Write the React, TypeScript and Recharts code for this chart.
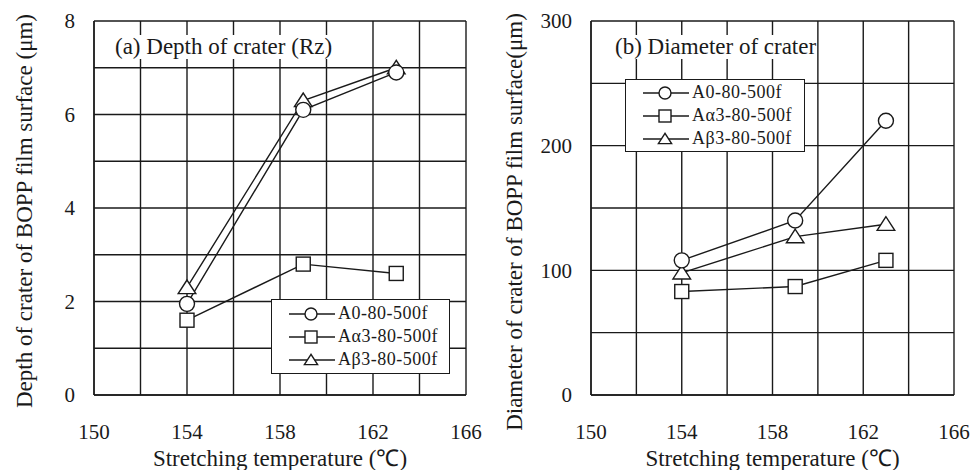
import { LineChart, Line, XAxis, YAxis, CartesianGrid } from 'recharts';

const temps = [154, 159, 163];
const seriesNames = ['A0-80-500f', 'Aα3-80-500f', 'Aβ3-80-500f'];

const depthA0 = [1.95, 6.1, 6.9];
const depthAa3 = [1.6, 2.8, 2.6];
const depthAb3 = [2.3, 6.3, 7.0];

const diamA0 = [108, 140, 220];
const diamAa3 = [83, 87, 108];
const diamAb3 = [98, 127, 137];

const xTicks = [150, 152, 154, 156, 158, 160, 162, 164, 166];
const xLabels = [150, 154, 158, 162, 166];
const depthTicks = [0, 1, 2, 3, 4, 5, 6, 7, 8];
const depthLabels = [0, 2, 4, 6, 8];
const diamTicks = [0, 50, 100, 150, 200, 250, 300];
const diamLabels = [0, 100, 200, 300];

const FONT = '"Liberation Serif", "Times New Roman", serif';
const INK = '#1a1a1a';

type Shape = 'circle' | 'square' | 'triangle';
const shapes: Shape[] = ['circle', 'square', 'triangle'];

function Marker({ shape, cx, cy, s }: { shape: Shape; cx: number; cy: number; s: number }) {
  const common = { fill: '#fff', stroke: INK, strokeWidth: 1.4 };
  if (shape === 'circle') return <circle cx={cx} cy={cy} r={s / 2} {...common} />;
  if (shape === 'square') return <rect x={cx - s / 2} y={cy - s / 2} width={s} height={s} {...common} />;
  const h = s * 0.85;
  return (
    <polygon
      points={`${cx},${cy - h * 0.55} ${cx - s * 0.55},${cy + h * 0.45} ${cx + s * 0.55},${cy + h * 0.45}`}
      {...common}
    />
  );
}

function LegendBox({ style }: { style: React.CSSProperties }) {
  return (
    <div
      style={{
        position: 'absolute',
        background: '#fff',
        border: `1.3px solid ${INK}`,
        boxSizing: 'border-box',
        fontFamily: FONT,
        fontSize: 18,
        color: INK,
        ...style,
      }}
    >
      {seriesNames.map((name, i) => (
        <div key={name} style={{ display: 'flex', alignItems: 'center', height: 23 }}>
          <svg width={48} height={20} style={{ marginLeft: 17, flexShrink: 0 }}>
            <line x1={0} y1={10} x2={46} y2={10} stroke={INK} strokeWidth={1.3} />
            <Marker shape={shapes[i]} cx={22} cy={10} s={12} />
          </svg>
          <span style={{ marginLeft: 1, letterSpacing: 0.5 }}>{name}</span>
        </div>
      ))}
    </div>
  );
}

interface PanelProps {
  left: number;
  width: number;
  yWidth: number;
  rightMargin: number;
  values: number[][];
  yTicks: number[];
  yLabels: number[];
  yMax: number;
  title: string;
  yTitle: string;
  yTitleX: number;
  yTitleY: number;
  legendStyle: React.CSSProperties;
  titleX: number;
}

function Panel(p: PanelProps) {
  const data = temps.map((t, i) => ({ t, s0: p.values[0][i], s1: p.values[1][i], s2: p.values[2][i] }));
  const plotL = p.yWidth;
  const plotR = p.width - p.rightMargin;
  const order = [2, 1, 0];
  return (
    <div style={{ position: 'absolute', left: p.left, top: 0, width: p.width, height: 470 }}>
      <LineChart width={p.width} height={470} data={data} margin={{ top: 21, right: p.rightMargin, left: 0, bottom: 0 }}>
        <CartesianGrid stroke={INK} strokeWidth={1.4} strokeOpacity={1} />
        <XAxis
          type="number"
          dataKey="t"
          domain={[150, 166]}
          ticks={xTicks}
          interval={0}
          height={75}
          tickLine={false}
          tickSize={0}
          tickMargin={29}
          axisLine={{ stroke: INK, strokeWidth: 1.4 }}
          tickFormatter={(v: number) => (xLabels.includes(v) ? String(v) : '')}
          tick={{ fill: INK, fontSize: 21, fontFamily: FONT }}
        />
        <YAxis
          type="number"
          domain={[0, p.yMax]}
          ticks={p.yTicks}
          interval={0}
          width={p.yWidth}
          tickLine={false}
          tickSize={0}
          tickMargin={19}
          axisLine={{ stroke: INK, strokeWidth: 1.4 }}
          tickFormatter={(v: number) => (p.yLabels.includes(v) ? String(v) : '')}
          tick={{ fill: INK, fontSize: 21, fontFamily: FONT }}
        />
        {order.map((k) => (
          <Line
            key={k}
            type="linear"
            dataKey={`s${k}`}
            name={seriesNames[k]}
            stroke={INK}
            strokeWidth={1.4}
            isAnimationActive={false}
            dot={(d: any) => (
              <Marker key={`${k}-${d.index}`} shape={shapes[k]} cx={d.cx} cy={d.cy} s={k === 2 ? 16 : k === 1 ? 14 : 15} />
            )}
            activeDot={false}
          />
        ))}
      </LineChart>
      <span
        style={{
          position: 'absolute',
          left: p.titleX,
          top: 35,
          background: '#fff',
          fontFamily: FONT,
          fontSize: 23,
          lineHeight: '24px',
          color: INK,
          whiteSpace: 'nowrap',
        }}
      >
        {p.title}
      </span>
      <div
        style={{
          position: 'absolute',
          left: plotL,
          width: plotR - plotL,
          top: 447,
          height: 23,
          lineHeight: '23px',
          textAlign: 'center',
          fontFamily: FONT,
          fontSize: 23,
          color: INK,
          whiteSpace: 'nowrap',
        }}
      >
        Stretching temperature (℃)
      </div>
      <div
        style={{
          position: 'absolute',
          left: p.yTitleX,
          top: p.yTitleY,
          transform: 'translate(-50%, -50%) rotate(-90deg)',
          fontFamily: FONT,
          fontSize: 23,
          lineHeight: '24px',
          color: INK,
          whiteSpace: 'nowrap',
        }}
      >
        {p.yTitle}
      </div>
      <LegendBox style={p.legendStyle} />
    </div>
  );
}

export default function App() {
  return (
    <div style={{ position: 'absolute', left: 0, top: 0, width: 971, height: 470, background: '#fff' }}>
      <Panel
        left={0}
        width={490}
        yWidth={94}
        rightMargin={24}
        values={[depthA0, depthAa3, depthAb3]}
        yTicks={depthTicks}
        yLabels={depthLabels}
        yMax={8}
        title="(a) Depth of crater (Rz)"
        titleX={115}
        yTitle="Depth of crater of BOPP film surface (μm)"
        yTitleX={25}
        yTitleY={211}
        legendStyle={{ left: 271, top: 299, width: 179, height: 75, paddingTop: 2 }}
      />
      <Panel
        left={490}
        width={481}
        yWidth={101}
        rightMargin={17}
        values={[diamA0, diamAa3, diamAb3]}
        yTicks={diamTicks}
        yLabels={diamLabels}
        yMax={300}
        title="(b) Diameter of crater"
        titleX={125}
        yTitle="Diameter of crater of BOPP film surface(μm)"
        yTitleX={25}
        yTitleY={222}
        legendStyle={{ left: 135, top: 79, width: 180, height: 73, paddingTop: 1 }}
      />
    </div>
  );
}
